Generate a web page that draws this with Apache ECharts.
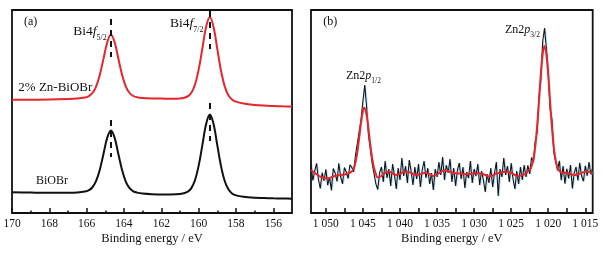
<!DOCTYPE html>
<html>
<head>
<meta charset="utf-8">
<script src="https://cdn.jsdelivr.net/npm/echarts/dist/echarts.min.js"></script>
<style>
  body { margin: 0; background: #fff; }
  #chart { width: 603px; height: 254px; }
</style>
</head>
<body>
<div id="chart"></div>
<script>
// (a) Bi4f region, binding energy in eV
const biEnergy = [170, 169, 168, 167, 166.5, 166.1, 165.9, 165.7, 165.5, 165.3, 165.1, 164.9, 164.7, 164.5, 164.3,
  164.1, 163.9, 163.7, 163.5, 163.3, 163.0, 162.5, 162.0, 161.5, 161.0, 160.6, 160.4, 160.2, 160.0, 159.8,
  159.6, 159.4, 159.2, 159.0, 158.8, 158.6, 158.4, 158.2, 158.0, 157.6, 157.0, 156.5, 156.0, 155.5, 155.0];
const znBiOBr = [113.2, 113.3, 113.4, 113.9, 114.4, 115.4, 116.7, 119.8, 126.2, 137.8, 154.1, 170.5, 178.5, 170.7, 154.3,
  138.0, 126.4, 120.0, 117.0, 115.7, 115.0, 114.6, 114.5, 114.2, 114.4, 116.5, 120.0, 128.3, 143.4, 164.8,
  186.2, 195.9, 185.7, 163.8, 142.0, 126.4, 117.6, 113.3, 111.4, 109.6, 108.1, 107.4, 107.0, 106.7, 106.5];
const pureBiOBr = [20.7, 20.4, 20.2, 20.3, 20.6, 21.4, 22.6, 25.5, 31.8, 43.0, 59.0, 75.1, 82.4, 75.1, 58.8,
  42.7, 31.2, 24.9, 21.7, 20.4, 19.5, 18.8, 18.5, 18.5, 18.9, 21.1, 24.6, 32.7, 47.4, 68.1,
  89.0, 98.4, 88.8, 67.6, 46.6, 31.7, 23.4, 19.3, 17.6, 16.2, 15.3, 15.0, 14.7, 14.5, 14.3];
// peak markers: [energy, top, bottom]
const biMarkers = [[164.7, 194, 156], [159.4, 202, 164], [164.7, 93, 56], [159.4, 110, 72]];

// (b) Zn2p region, raw counts from 1052 eV down in 0.25 eV steps
const znStart = 1052;
const znStep = 0.25;
const znRaw = [49, 32.5, 42, 49.7, 33.5, 24.5, 40.5, 32, 43.7, 27.8, 36, 22.7, 44.5, 40, 31.5, 49.8, 36, 29.2, 45.5, 41,
  34.5, 48.3, 45.5, 41.3, 57.7, 57, 81.3, 93.4, 112, 128, 106, 78, 77, 49.5, 48, 29.2, 23.5, 40.2,
  46, 31, 52, 35, 44, 27, 49, 38, 24, 45, 33, 55, 37, 47, 30, 53, 42, 28, 46, 34,
  49, 26, 43, 52, 35, 45, 29, 40, 23, 44, 36, 51, 38, 56, 33, 48, 40, 54, 31, 45,
  27, 43, 50, 34, 46, 25, 41, 35, 52, 30, 44, 37, 49, 28, 42, 33, 21, 39, 30, 45,
  26, 40, 51, 17, 44, 36, 55, 38, 47, 31, 50, 34, 24, 42, 29, 46, 33, 48, 36,
  47.7, 39.1, 55.5, 50.7, 71.7, 80.5, 116, 133.7, 171.2, 185, 164.5, 141, 104, 93.5, 60.7, 58.7, 42.5, 52.2, 32.7,
  47, 29.2, 44.3, 34.6, 48, 24.5, 40, 46.2, 32.5, 50.2, 37, 31.7, 47.3, 37.2, 51, 38.5, 45];
const fitEnergy = [1052, 1051.5, 1051, 1050.5, 1050, 1049.5, 1049, 1048.5, 1048, 1047.5, 1047, 1046.5, 1046.25, 1046,
  1045.75, 1045.5, 1045.25, 1045, 1044.8, 1044.5, 1044.25, 1044, 1043.75, 1043.5, 1043.25, 1043, 1042.5, 1042,
  1041.5, 1041, 1040.5, 1040, 1039.5, 1039, 1038.5, 1038, 1037.5, 1037, 1036.5, 1036, 1035.5, 1035, 1034.5, 1034,
  1033.5, 1033, 1032.5, 1032, 1031.5, 1031, 1030.5, 1030, 1029.5, 1029, 1028.5, 1028, 1027.5, 1027, 1026.5, 1026,
  1025.5, 1025, 1024.5, 1024, 1023.5, 1023, 1022.75, 1022.5, 1022.25, 1022, 1021.75, 1021.5, 1021.25, 1021, 1020.75,
  1020.5, 1020.25, 1020, 1019.75, 1019.5, 1019.25, 1019, 1018.75, 1018.5, 1018.25, 1018, 1017.5, 1017, 1016.5, 1016,
  1015.5, 1015, 1014.5, 1014];
const fitCounts = [43, 40, 37.5, 35.5, 34.7, 35, 36.5, 37.5, 38, 38.5, 39.5, 41.5, 44.3, 50.7,
  61, 75.3, 90.4, 102, 105.3, 98, 84, 68, 54.5, 45, 39.2, 35.5, 37, 40,
  41.2, 39.5, 38, 39, 41, 41.3, 40, 38.3, 38.2, 39.5, 40.3, 38.8, 37, 38.5, 41, 42.5,
  42, 40.5, 39.7, 39.5, 39, 38.7, 39, 39.5, 39.7, 39.5, 38, 36.5, 37.5, 39.5, 40.3, 41,
  41.3, 40, 38, 37, 38, 39.5, 41.7, 43.1, 46.5, 53.7, 66.7, 86.5, 112, 138.7, 159.2,
  167, 158.5, 138, 111, 85.5, 65.7, 52.7, 45.5, 42.2, 40.7, 40, 40.3, 39, 38, 38.5,
  40, 41.3, 41, 40];

const serif = 'Liberation Serif';
const ink = '#111';

let chart = echarts.init(document.getElementById('chart'));

let biRed = biEnergy.map((e, i) => [e, znBiOBr[i]]);
let biBlack = biEnergy.map((e, i) => [e, pureBiOBr[i]]);
let znData = znRaw.map((v, i) => [znStart - i * znStep, v]);
let fitData = fitEnergy.map((e, i) => [e, fitCounts[i]]);

function markerLines(list) {
  return {
    silent: true,
    symbol: 'none',
    label: { show: false },
    lineStyle: { color: ink, width: 2, type: [6, 5] },
    data: list.map(m => [{ coord: [m[0], m[1]] }, { coord: [m[0], m[2]] }])
  };
}

function tickAxis(grid, min, max, interval, minorLen, fmt) {
  return {
    type: 'value', gridIndex: grid, inverse: true, min: min, max: max, interval: interval,
    axisLine: { show: false },
    axisTick: { show: true, inside: true, length: 5, lineStyle: { color: ink, width: 1.5 } },
    minorTick: { show: true, splitNumber: 2, length: minorLen, lineStyle: { color: ink, width: 1.5 } },
    splitLine: { show: false },
    axisLabel: { margin: 5, fontFamily: serif, fontSize: 11.5, color: ink, formatter: fmt }
  };
}

function frameAxis(grid, min, max) {
  return {
    type: 'value', gridIndex: grid, inverse: true, min: min, max: max,
    axisLine: { show: false, onZero: false },
    axisTick: { show: false },
    axisLabel: { show: false },
    splitLine: { show: false },
    name: 'Binding energy / eV',
    nameLocation: 'middle',
    nameGap: 19,
    nameTextStyle: { fontFamily: serif, fontSize: 12.5, color: ink }
  };
}

function hiddenY(grid, max) {
  return { type: 'value', gridIndex: grid, min: 0, max: max, show: false };
}

function label(x, y, text, rich) {
  return {
    type: 'text', x: x, y: y, silent: true,
    style: { text: text, rich: rich, align: 'left', verticalAlign: 'middle', fill: ink,
      fontFamily: serif, fontSize: 12 }
  };
}

let biRich = {
  n: { fontFamily: serif, fontSize: 13.5, fill: ink, lineHeight: 22 },
  i: { fontFamily: serif, fontSize: 13.5, fontStyle: 'italic', fill: ink, lineHeight: 22 },
  s: { fontFamily: serif, fontSize: 8, fill: ink, lineHeight: 8, verticalAlign: 'bottom' }
};
let znRich = {
  n: { fontFamily: serif, fontSize: 12, fill: ink, lineHeight: 18 },
  i: { fontFamily: serif, fontSize: 12, fontStyle: 'italic', fill: ink, lineHeight: 18 },
  s: { fontFamily: serif, fontSize: 7.5, fill: ink, lineHeight: 8, verticalAlign: 'bottom' }
};
let plainRich = {
  n: { fontFamily: serif, fontSize: 12, fill: ink }
};

let option = {
  animation: false,
  backgroundColor: '#fff',
  grid: [
    { left: 12, right: 311, top: 10, bottom: 41, show: true, borderColor: ink, borderWidth: 1.8, backgroundColor: 'transparent' },
    { left: 12, right: 329.7, top: 10, bottom: 41 },
    { left: 311, right: 10.3, top: 10, bottom: 41, show: true, borderColor: ink, borderWidth: 1.8, backgroundColor: 'transparent' },
    { left: 325.8, right: 17.7, top: 10, bottom: 41 }
  ],
  xAxis: [
    frameAxis(0, 155, 170),
    tickAxis(1, 156, 170, 2, 2.5, v => (v % 2 === 0 ? String(v) : '')),
    frameAxis(2, 1014, 1052),
    tickAxis(3, 1015, 1050, 5, 5, v => String(v).replace(/^(\d)(\d{3})$/, '$1 $2'))
  ],
  yAxis: [hiddenY(0, 203), hiddenY(1, 1), hiddenY(2, 203), hiddenY(3, 1)],
  series: [
    {
      name: '2% Zn-BiOBr', type: 'line', xAxisIndex: 0, yAxisIndex: 0, data: biRed,
      showSymbol: false, smooth: 0.35, lineStyle: { color: '#e8242c', width: 2 },
      markLine: markerLines(biMarkers.slice(0, 2))
    },
    {
      name: 'BiOBr', type: 'line', xAxisIndex: 0, yAxisIndex: 0, data: biBlack,
      showSymbol: false, smooth: 0.35, lineStyle: { color: ink, width: 2 },
      markLine: markerLines(biMarkers.slice(2))
    },
    {
      name: 'Zn2p raw', type: 'line', xAxisIndex: 2, yAxisIndex: 2, data: znData,
      showSymbol: false, lineStyle: { color: '#0e161c', width: 1.1, shadowColor: 'rgba(110,190,225,0.45)', shadowOffsetX: 1, shadowOffsetY: 0.5 }
    },
    {
      name: 'Zn2p fit', type: 'line', xAxisIndex: 2, yAxisIndex: 2, data: fitData,
      showSymbol: false, smooth: 0.4, lineStyle: { color: '#e8242c', width: 2 }
    }
  ],
  graphic: [
    label(24, 21.7, '{n|(a)}', plainRich),
    label(73.3, 31, '{n|Bi4}{i|f}{s|5/2}', biRich),
    label(170, 23.3, '{n|Bi4}{i|f}{s|7/2}', biRich),
    label(18.3, 88, '{n|2% Zn-BiOBr}', { n: { fontFamily: serif, fontSize: 13, fill: ink } }),
    label(36, 181, '{n|BiOBr}', plainRich),
    label(323.3, 21.7, '{n|(b)}', plainRich),
    label(505, 30.1, '{n|Zn2}{i|p}{s|3/2}', znRich),
    label(346, 75.8, '{n|Zn2}{i|p}{s|1/2}', znRich)
  ]
};

chart.setOption(option);
</script>
</body>
</html>
